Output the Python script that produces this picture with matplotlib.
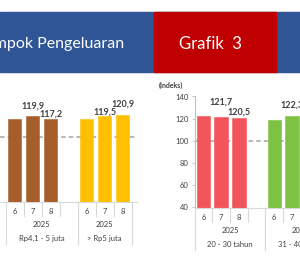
import matplotlib.pyplot as plt
import matplotlib.patches as patches
import matplotlib.transforms as mtransforms

plt.rcParams['font.family'] = ['Lato', 'DejaVu Sans']

W, H = 300, 275

# left chart (income groups)
left_groups = ["Rp4,1 - 5 juta", "> Rp5 juta"]
left_brown = [117.4, 119.9, 117.2]
left_yellow = [116.7, 119.5, 120.9]

# right chart (age groups)
right_groups = ["20 - 30 tahun", "31 - 40 tahun"]
right_red = [122.1, 121.7, 120.5]
right_green = [118.5, 122.3, 121.0]

months = ["6", "7", "8"]
year = "2025"
yticks = [40, 60, 80, 100, 120, 140]


def fx(px):
    return px / W


def fy(py):
    return 1 - py / H


def fmt(v):
    return f"{v:.1f}".replace(".", ",")


fig = plt.figure(figsize=(3, 2.75), dpi=100)

# header banner
fig.patches.append(patches.Rectangle((0, fy(72)), 1, fy(12) - fy(72), transform=fig.transFigure,
                                     color="#2F5597", zorder=0))
fig.patches.append(patches.Rectangle((fx(154), fy(72)), fx(122), fy(12) - fy(72), transform=fig.transFigure,
                                     color="#C00000", zorder=1))
fig.text(fx(124), fy(44), "Kelompok Pengeluaran", color="white", fontsize=11.5, ha="right", va="center")
fig.text(fx(210), fy(44), "Grafik  3", color="white", fontsize=12, ha="center", va="center")


def make_axes(left_px, right_px, top_px, bottom_px, x0_px, slot_px):
    ax = fig.add_axes([fx(left_px), fy(bottom_px), fx(right_px - left_px), fy(top_px) - fy(bottom_px)])
    ax.set_xlim((left_px - x0_px) / slot_px, (right_px - x0_px) / slot_px)
    ax.set_ylim(40, 140)
    ax.patch.set_alpha(0)
    for s in ["top", "right"]:
        ax.spines[s].set_visible(False)
    ax.spines["bottom"].set_color("#D9D9D9")
    ax.spines["left"].set_color("#BFBFBF")
    ax.set_xticks([])
    ax.axhline(100, color="#A6A6A6", lw=1.1, ls=(0, (3, 2)), zorder=1)
    return ax


def draw_bars(ax, start, values, color, label_offsets):
    xs = [start + i for i in range(len(values))]
    ax.bar(xs, values, width=0.76, color=color, edgecolor=color, lw=0.4, zorder=2)
    for x, v, off in zip(xs, values, label_offsets):
        if off is None:
            continue
        ax.annotate(fmt(v), (x, v), xytext=(0, off * 0.72), textcoords="offset points",
                    ha="center", va="center", fontsize=6.5, fontweight="bold", color="#404040",
                    annotation_clip=False)


def draw_cats(ax, axis_px, groups):
    tr = mtransforms.blended_transform_factory(ax.transData, fig.transFigure)
    for (lo, hi, n), name in zip(groups[0], groups[1]):
        for i in range(n):
            ax.text(lo + 0.5 + i, fy(axis_px + 9.5), months[i], transform=tr, ha="center", va="center",
                    fontsize=5.5, color="#404040", clip_on=False)
        for i in range(1, int(hi - lo)):
            ax.plot([lo + i, lo + i], [fy(axis_px), fy(axis_px + 14)], transform=tr, color="#D9D9D9",
                    lw=0.8, clip_on=False)
        for b in (lo, hi):
            ax.plot([b, b], [fy(axis_px), fy(axis_px + 42)], transform=tr, color="#D9D9D9",
                    lw=0.8, clip_on=False)
        c = (lo + hi) / 2
        ax.text(c, fy(axis_px + 23), year, transform=tr, ha="center", va="center",
                fontsize=5.5, color="#404040", clip_on=False)
        ax.text(c, fy(axis_px + 37), name, transform=tr, ha="center", va="center",
                fontsize=5.5, color="#404040", clip_on=False)


# left chart
ax1 = make_axes(0, 137, 94.3, 201.5, 14.5, 18)
ax1.spines["left"].set_visible(False)
ax1.set_yticks([])
draw_bars(ax1, 0, left_brown, "#A65F2A", [None, 9.7, 5])
draw_bars(ax1, 4, left_yellow, "#FFC000", [None, 4, 11])
draw_cats(ax1, 201.5, ([(-0.5, 3.5, 3), (3.5, 6.5, 3)], left_groups))

# right chart
ax2 = make_axes(195, 330, 96.5, 207.5, 203.5, 17.7)
ax2.set_yticks(yticks)
ax2.set_yticklabels([str(t) for t in yticks], fontsize=5.5, color="#404040")
ax2.tick_params(axis="y", length=2.5, width=0.6, color="#BFBFBF", pad=2)
draw_bars(ax2, 0, right_red, "#F2545B", [None, 14.3, 6])
draw_bars(ax2, 4, right_green, "#7DC242", [None, 11.3, None])
draw_cats(ax2, 207.5, ([(-0.5, 3.5, 3), (3.5, 7.5, 3)], right_groups))
fig.text(fx(171), fy(85), "(Indeks)", fontsize=5, fontweight="bold", color="#404040", ha="center", va="center")

fig.savefig("out.png", dpi=100)
